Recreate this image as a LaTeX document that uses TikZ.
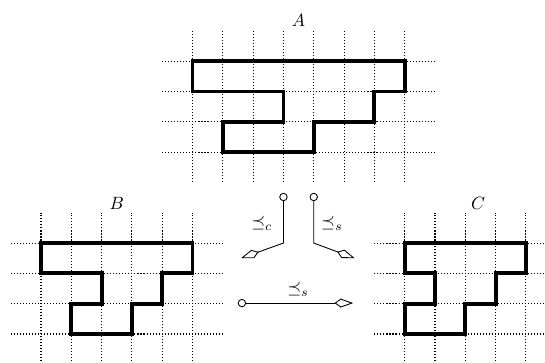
\documentclass[tikz,border=0pt]{standalone}
\usepackage{amssymb}
\usetikzlibrary{arrows.meta}

\begin{document}
\begin{tikzpicture}[
    x=0.6cm, y=0.6cm,
    gridline/.style={
        line width=0.6pt,
        dash pattern=on 0.6pt off 1.1pt
    },
    region/.style={
        line width=2.2pt,
        line join=miter
    },
    src/.style={
        circle,
        draw,
        inner sep=0pt,
        minimum size=4.2pt,
        line width=0.5pt
    },
    order/.style={-{Kite[open, length=10.5pt, width=5pt, inset=3.5pt]}, line width=0.5pt}
]
\useasboundingbox (-1.353,-3.927) rectangle (16.63,8.02);
\clip (-1.353,-3.927) rectangle (16.63,8.02);

% A grid
\foreach \x in {5,...,12} \draw[gridline] (\x,2) -- (\x,7);
\foreach \y in {3,...,6} \draw[gridline] (4,\y) -- (13,\y);
\draw[region] (5,6) -- (12,6) -- (12,5) -- (11,5) -- (11,4) -- (9,4) -- (9,3)
    -- (6,3) -- (6,4) -- (8,4) -- (8,5) -- (5,5) -- cycle;
\node (la) at (8.5,7.35) {$A$};

% B grid
\foreach \x in {0,...,5} \draw[gridline] (\x,-4) -- (\x,1);
\foreach \y in {-3,...,0} \draw[gridline] (-1,\y) -- (6,\y);
\draw[region] (0,0) -- (5,0) -- (5,-1) -- (4,-1) -- (4,-2) -- (3,-2) -- (3,-3)
    -- (1,-3) -- (1,-2) -- (2,-2) -- (2,-1) -- (0,-1) -- cycle;
\node (lb) at (2.5,1.32) {$B$};

% C grid
\foreach \x in {12,...,16} \draw[gridline] (\x,-4) -- (\x,1);
\foreach \y in {-3,...,0} \draw[gridline] (11,\y) -- (17,\y);
\draw[region] (12,0) -- (16,0) -- (16,-1) -- (15,-1) -- (15,-2) -- (14,-2) -- (14,-3)
    -- (12,-3) -- (12,-2) -- (13,-2) -- (13,-1) -- (12,-1) -- cycle;
\node (lc) at (14.42,1.32) {$C$};

% orders
\node[src] (sc) at (8,1.52) {};
\coordinate (kc) at (8,0);
\coordinate (tc) at (6.6,-0.5);
\draw[order] (sc) -- (kc) -- (tc);
\node (lsc) at (7.29,0.66) {$\preceq_c$};

\node[src] (ss) at (9,1.52) {};
\coordinate (ks) at (9,0);
\coordinate (ts) at (10.35,-0.5);
\draw[order] (ss) -- (ks) -- (ts);
\node (lss) at (9.6,0.66) {$\preceq_s$};

\node[src] (sh) at (6.63,-1.98) {};
\coordinate (th) at (10.3,-1.98);
\draw[order] (sh) -- (th);
\node (lsh) at (8.48,-1.52) {$\preceq_s$};

\end{tikzpicture}
\end{document}
